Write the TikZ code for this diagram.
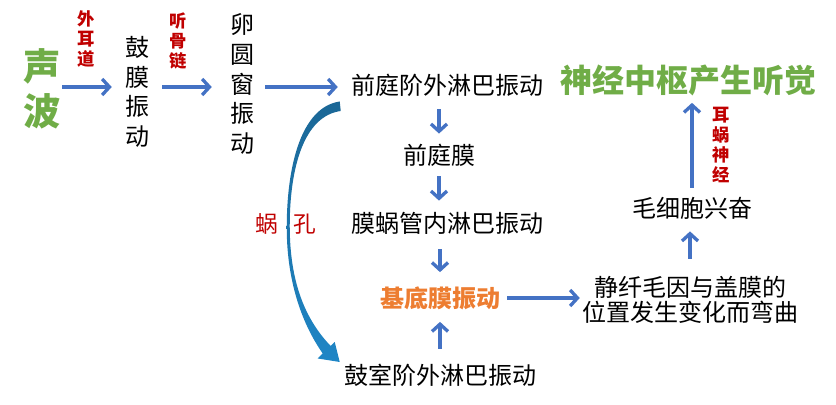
\documentclass[tikz,border=0pt]{standalone}
\usepackage{fontspec}
\setmainfont{Noto Sans CJK SC}
\usepackage{tikz}
\usetikzlibrary{arrows.meta}
\definecolor{arrblue}{HTML}{4472C4}
\definecolor{lblred}{HTML}{C00000}
\definecolor{hdgreen}{HTML}{70AD47}
\definecolor{jdorange}{HTML}{ED7D31}
\definecolor{wkdark}{HTML}{1B6796}
\definecolor{wklight}{HTML}{B5DBF3}
\definecolor{wkblue}{HTML}{1F86C6}

\begin{document}
\begin{tikzpicture}[x=0.75pt,y=-0.75pt,
  arr/.style={draw=arrblue,line width=2.5pt,shorten <=9pt,shorten >=9pt,
    -{Straight Barb[length=5.5pt,width=12pt]}},
  txt/.style={inner sep=0pt,font=\fontsize{18pt}{19pt}\selectfont},
  vtxt/.style={inner sep=0pt,align=center,font=\fontsize{18pt}{22.2pt}\selectfont},
  lbl/.style={inner sep=0pt,align=center,text=lblred,
    font=\bfseries\fontsize{13pt}{15.2pt}\selectfont}]
\useasboundingbox (0,0) rectangle (836,404);
% left column
\node[vtxt,text=hdgreen,font=\bfseries\fontsize{28pt}{34pt}\selectfont] (sb) at (42,89) {声\\波};
\node[vtxt] (gm)  at (137,92) {鼓\\膜\\振\\动};
\node[vtxt] (lyc) at (242,84) {卵\\圆\\窗\\振\\动};
\node[lbl] (wed) at (86,39) {外\\耳\\道};
\node[lbl] (tgl) at (178,41) {听\\骨\\链};
% middle column
\node[txt] (qtj) at (447,85)  {前庭阶外淋巴振动};
\node[txt] (qtm) at (439,155) {前庭膜};
\node[txt] (mwg) at (447,223) {膜蜗管内淋巴振动};
\node[txt,text=jdorange,font=\bfseries\fontsize{18pt}{19pt}\selectfont] (jdm) at (440,298) {基底膜振动};
\node[txt] (gsj) at (440,375) {鼓室阶外淋巴振动};
\node[txt,text=lblred,font=\fontsize{17pt}{18pt}\selectfont] (wk) at (286,224) {蜗\hspace{0.68em}孔};
% right column
\node[txt,align=center] (jxm) at (690,300) {静纤毛因与盖膜的\\位置发生变化而弯曲};
\node[txt] (mxb) at (692,208) {毛细胞兴奋};
\node[txt,text=hdgreen,font=\bfseries\fontsize{24pt}{26pt}\selectfont] (zs) at (688,80) {神经中枢产生听觉};
\node[lbl] (emsj) at (721,145) {耳\\蜗\\神\\经};

\coordinate (row) at (0,87);
\draw[arr,shorten <=1pt,shorten >=9.75pt] (sb.east |- row) -- (gm.west |- row);
\draw[arr,shorten <=9.75pt,shorten >=13.5pt] (gm.east |- row) -- (lyc.west |- row);
\draw[arr,shorten <=8.25pt,shorten >=9.75pt] (lyc.east |- row) -- (qtj.west |- row);
\draw[arr,shorten <=9.75pt,shorten >=7.5pt] (qtm |- qtj.south) -- (qtm.north);
\draw[arr,shorten <=7.5pt,shorten >=8.25pt] (qtm.south) -- (qtm |- mwg.north);
\draw[arr,shorten <=11.25pt,shorten >=10.5pt] (jdm |- mwg.south) -- (jdm.north);
\draw[arr,shorten <=11.25pt,shorten >=9pt] (gsj.north) -- (jdm.south);
\draw[arr,shorten <=5.25pt,shorten >=1.5pt] (jdm.east) -- (jxm.west |- jdm.east);
\draw[arr,shorten <=13pt,shorten >=9pt] (jxm.north) -- (jxm.north |- mxb.south);
\draw[arr,shorten <=6.75pt,shorten >=5.25pt] (mxb.north) -- (mxb.north |- zs.south);

% round window arrow
\coordinate (ktop) at ([shift={(-11,5)}]qtj.south west);
\coordinate (ktip) at ([shift={(-4,-13)}]gsj.west);
\shade[top color=wkdark,middle color=wklight,bottom color=wkblue]
  (ktop) .. controls +(-40,6) and +(0,-58) .. ++(-53,126)
  .. controls +(0,57) and +(-19,-27) .. ++(36,126)
  -- ++(-5,5) -- (ktip) -- ++(-5,-20) -- ++(-4,4)
  .. controls +(-25,-26) and +(0,57) .. ++(-41,-120)
  .. controls +(0,-58) and +(-37,5) .. ++(51,-115) -- cycle;
\end{tikzpicture}
\end{document}
